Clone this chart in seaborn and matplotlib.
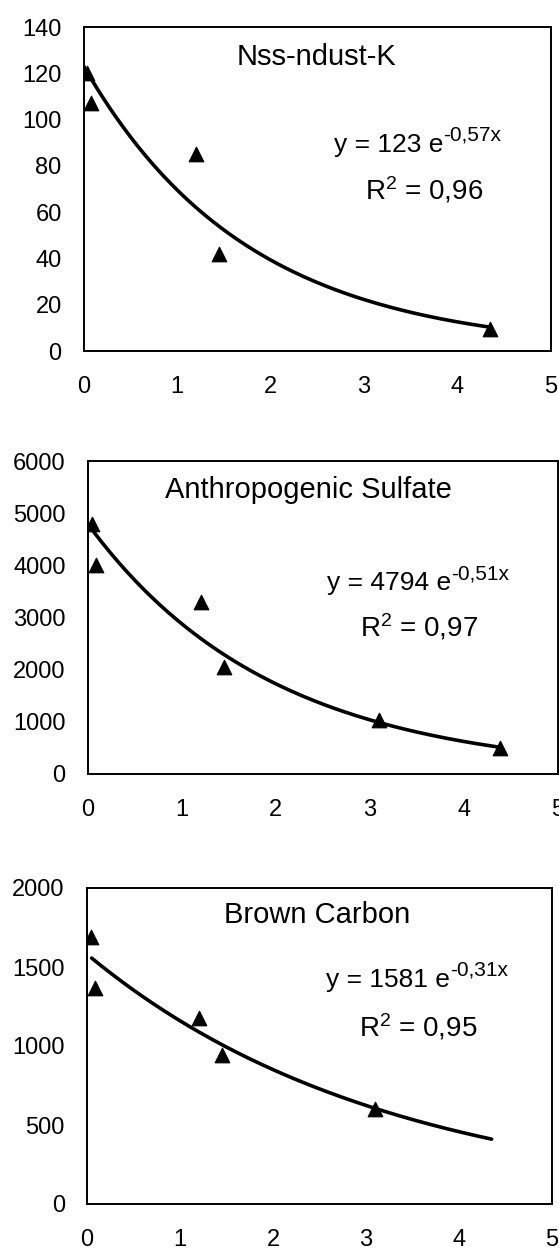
import numpy as np
import pandas as pd
import matplotlib
matplotlib.use("Agg")
import matplotlib.pyplot as plt
import seaborn as sns

nss_x = [0.03, 0.08, 1.20, 1.45, 4.35]
nss_y = [120, 107, 85, 42, 9.5]

sulf_x = [0.04, 0.09, 1.20, 1.45, 3.10, 4.38]
sulf_y = [4800, 4000, 3300, 2050, 1030, 500]

brc_x = [0.04, 0.09, 1.20, 1.45, 3.10]
brc_y = [1690, 1370, 1180, 940, 600]

# exponential trend lines y = a*exp(b*x), as printed on the chart
titles = ["Nss-ndust-K", "Anthropogenic Sulfate", "Brown Carbon"]
fit_a = [123, 4794, 1581]
fit_b = [-0.57, -0.51, -0.31]
fit_b_txt = ["-0,57x", "-0,51x", "-0,31x"]
fit_r2 = ["0,96", "0,97", "0,95"]
fit_range = [(0.0, 4.35), (0.0, 4.40), (0.05, 4.35)]

y_max = [140, 6000, 2000]
y_step = [20, 1000, 500]

sns.set_style("white")
plt.rcParams['font.family'] = ['Liberation Sans', 'DejaVu Sans']
plt.rcParams['text.color'] = 'black'
plt.rcParams['mathtext.fontset'] = 'custom'
plt.rcParams['mathtext.rm'] = 'Liberation Sans'
plt.rcParams['mathtext.it'] = 'Liberation Sans'

fig = plt.figure(figsize=(5.59, 12.5), dpi=100)

# axes boxes in figure fraction [left, bottom, width, height]
boxes = [
    [0.150, 0.7192, 0.835, 0.2592],
    [0.157, 0.3808, 0.841, 0.2504],
    [0.1556, 0.0368, 0.832, 0.2528],
]
# text positions in axes fraction: title (centre), equation (right end of "y = .. e"), R2 (centre)
txt_pos = [
    [(0.498, 0.907), (0.770, 0.636), (0.729, 0.497)],
    [(0.470, 0.907), (0.772, 0.610), (0.704, 0.470)],
    [(0.495, 0.915), (0.781, 0.709), (0.712, 0.560)],
]

data = [(nss_x, nss_y), (sulf_x, sulf_y), (brc_x, brc_y)]

for i in range(3):
    ax = fig.add_axes(boxes[i])
    px, py = data[i]
    df = pd.DataFrame({'x': px, 'y': py})

    x0, x1 = fit_range[i]
    cx = np.linspace(x0, x1, 200)
    cdf = pd.DataFrame({'x': cx, 'y': fit_a[i] * np.exp(fit_b[i] * cx)})

    sns.lineplot(data=cdf, x='x', y='y', ax=ax, color='black', lw=2.6)
    sns.scatterplot(data=df, x='x', y='y', ax=ax, marker='^', s=110,
                    color='black', edgecolor='black', zorder=5)

    ax.set_xlim(0, 5)
    ax.set_ylim(0, y_max[i])
    ax.set_xticks(range(0, 6))
    ax.set_yticks(np.arange(0, y_max[i] + 1, y_step[i]))
    ax.set_xlabel('')
    ax.set_ylabel('')

    ax.tick_params(axis='both', direction='out', length=5, width=1,
                   color='#aaaaaa', labelsize=17, labelcolor='black')
    ax.tick_params(axis='y', pad=11)
    ax.tick_params(axis='x', pad=13)
    for s in ax.spines.values():
        s.set_color('black')
        s.set_linewidth(1.4)

    (tx, ty), (ex, ey), (rx, ry) = txt_pos[i]
    ax.text(tx, ty, titles[i], transform=ax.transAxes, ha='center',
            va='center', fontsize=21)
    eq = ax.text(ex, ey, "y = %d e" % fit_a[i], transform=ax.transAxes,
                 ha='right', va='center', fontsize=19)
    ax.annotate(fit_b_txt[i], xy=(1.0, 0.50), xycoords=eq, ha='left',
                va='bottom', fontsize=15)
    ax.text(rx, ry, "R$^{\\mathrm{2}}$ = " + fit_r2[i], transform=ax.transAxes,
            ha='center', va='center', fontsize=20)

fig.savefig('out.png', dpi=100)
